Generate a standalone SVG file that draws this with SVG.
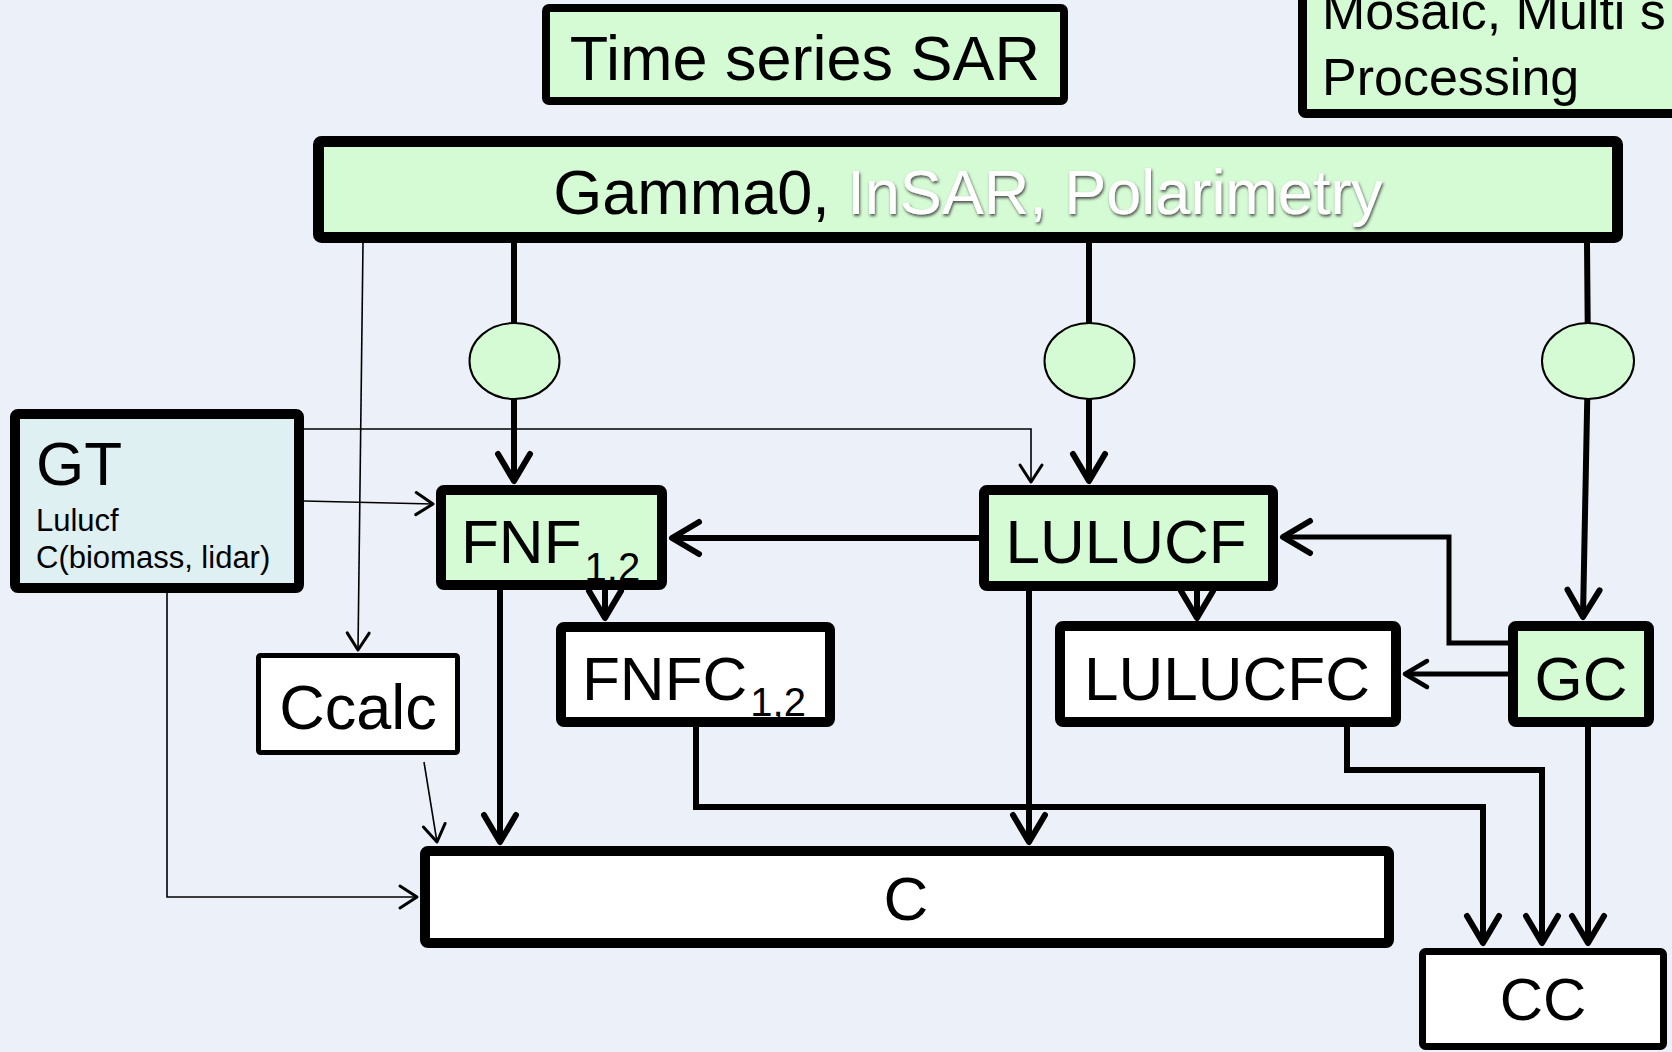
<svg xmlns="http://www.w3.org/2000/svg" width="1672" height="1052" viewBox="0 0 1672 1052">
  <style>
    text { font-family: "Liberation Sans", Arial, sans-serif; fill: #000; }
    .box { stroke: #000; stroke-width: 10; stroke-linejoin: round; }
    .green { fill: #d5fbd4; }
    .white { fill: #ffffff; }
    .blue { fill: #dff0f3; }
    .big { font-size: 62px; }
    .sub { font-size: 40px; }
    .small { font-size: 31px; }
    .thick { fill: none; stroke: #000; stroke-width: 6; stroke-linejoin: miter; }
    .mid { fill: none; stroke: #000; stroke-width: 5; stroke-linejoin: miter; }
    .thin { fill: none; stroke: #000; stroke-width: 1.6; }
    .blob { fill: #d5fbd4; stroke: #000; stroke-width: 2; }
  </style>
  <defs>
    <marker id="ahThick" markerUnits="userSpaceOnUse" orient="auto" viewBox="-40 -25 50 50" markerWidth="50" markerHeight="50" refX="0" refY="0" overflow="visible">
      <path d="M-27,-16 L0,0 L-27,16" fill="none" stroke="#000" stroke-width="6" stroke-linecap="round" stroke-linejoin="round"/>
    </marker>
    <marker id="ahMid" markerUnits="userSpaceOnUse" orient="auto" viewBox="-40 -25 50 50" markerWidth="50" markerHeight="50" refX="0" refY="0" overflow="visible">
      <path d="M-22,-13 L0,0 L-22,13" fill="none" stroke="#000" stroke-width="4.5" stroke-linecap="round" stroke-linejoin="round"/>
    </marker>
    <marker id="ahThin" markerUnits="userSpaceOnUse" orient="auto" viewBox="-30 -20 40 40" markerWidth="40" markerHeight="40" refX="0" refY="0" overflow="visible">
      <path d="M-17,-11 L0,0 L-17,11" fill="none" stroke="#000" stroke-width="3" stroke-linecap="round" stroke-linejoin="round"/>
    </marker>
    <filter id="glow" x="-10%" y="-30%" width="120%" height="160%">
      <feDropShadow dx="1" dy="2" stdDeviation="1.6" flood-color="#3a3a3a" flood-opacity="0.9"/>
    </filter>
  </defs>

  <!-- page background -->
  <rect x="0" y="0" width="1672" height="1052" fill="#ecf1f9"/>

  <!-- connectors -->
  <g id="connectors">
    <!-- Gamma0 feeds through the three decision ellipses -->
    <path class="thick" d="M514,243 L514,481" marker-end="url(#ahThick)"/>
    <path class="thick" d="M1089,243 L1089,481" marker-end="url(#ahThick)"/>
    <path class="thick" d="M1587,243 L1588,360 L1583,617" marker-end="url(#ahThick)"/>
    <!-- LULUCF to FNF -->
    <path class="thick" d="M979,538 L672,538" marker-end="url(#ahThick)"/>
    <!-- GC back to LULUCF and LULUCFC -->
    <path class="mid" d="M1508,643 L1449,643 L1449,537 L1283,537" marker-end="url(#ahThick)"/>
    <path class="mid" d="M1508,674 L1405,674" marker-end="url(#ahMid)"/>
    <!-- classification to change products -->
    <path class="thick" d="M605,590 L605,618" marker-end="url(#ahThick)"/>
    <path class="thick" d="M1197,591 L1197,618" marker-end="url(#ahThick)"/>
    <!-- products to C -->
    <path class="thick" d="M500,590 L500,842" marker-end="url(#ahThick)"/>
    <path class="thick" d="M1029,591 L1029,842" marker-end="url(#ahThick)"/>
    <!-- change products to CC -->
    <path class="thick" d="M696,727 L696,807 L1483,807 L1483,943" marker-end="url(#ahThick)"/>
    <path class="thick" d="M1347,727 L1347,770 L1542,770 L1542,943" marker-end="url(#ahThick)"/>
    <path class="thick" d="M1588,727 L1588,943" marker-end="url(#ahThick)"/>
    <!-- thin ground-truth and calculation links -->
    <path class="thin" d="M363,243 L358,650" marker-end="url(#ahThin)"/>
    <path class="thin" d="M304,429 L1031,429 L1031,482" marker-end="url(#ahThin)"/>
    <path class="thin" d="M304,501 L433,504" marker-end="url(#ahThin)"/>
    <path class="thin" d="M167,593 L167,897 L417,897" marker-end="url(#ahThin)"/>
    <path class="thin" d="M424,762 L437,842" marker-end="url(#ahThin)"/>
  </g>

  <!-- top inputs -->
  <g id="time-series-sar">
    <rect class="box green" x="546" y="8" width="518" height="93" rx="3" style="stroke-width:8"/>
    <text x="805" y="80" font-size="63" text-anchor="middle">Time series SAR</text>
  </g>

  <g id="mosaic">
    <rect class="box green" x="1302.5" y="-20" width="400" height="133.5" rx="3" style="stroke-width:9"/>
    <text x="1322" y="29" font-size="52">Mosaic, Multi s</text>
    <text x="1322" y="95" font-size="52">Processing</text>
  </g>

  <g id="gamma0">
    <rect class="box green" x="318.5" y="141.5" width="1299" height="96" rx="3" style="stroke-width:11"/>
    <text x="968" y="214" font-size="63" text-anchor="middle">Gamma0, <tspan fill="#ffffff" filter="url(#glow)">InSAR, Polarimetry</tspan></text>
  </g>

  <!-- decision points -->
  <g id="ellipse-fnf"><ellipse class="blob" cx="514.5" cy="361" rx="45" ry="38"/></g>
  <g id="ellipse-lulucf"><ellipse class="blob" cx="1089.5" cy="361" rx="45" ry="38"/></g>
  <g id="ellipse-gc"><ellipse class="blob" cx="1588" cy="361" rx="46" ry="38"/></g>

  <!-- ground truth -->
  <g id="gt">
    <rect class="box blue" x="15" y="414" width="284" height="174" rx="3"/>
    <text class="big" x="36" y="485">GT</text>
    <text class="small" x="36" y="531">Lulucf</text>
    <text class="small" x="36" y="568">C(biomass, lidar)</text>
  </g>

  <!-- classification products -->
  <g id="fnf">
    <rect class="box green" x="441" y="490" width="221" height="95" rx="3"/>
    <text class="big" x="461" y="563">FNF<tspan class="sub" dx="3" dy="18">1,2</tspan></text>
  </g>

  <g id="lulucf">
    <rect class="box green" x="984" y="490" width="289" height="96" rx="3"/>
    <text class="big" x="1126" y="563" text-anchor="middle">LULUCF</text>
  </g>

  <g id="gc">
    <rect class="box green" x="1513" y="626" width="136" height="96" rx="3"/>
    <text class="big" x="1581" y="700" text-anchor="middle">GC</text>
  </g>

  <g id="fnfc">
    <rect class="box white" x="561" y="627" width="269" height="95" rx="3"/>
    <text class="big" x="582" y="700">FNFC<tspan class="sub" dx="3" dy="16">1,2</tspan></text>
  </g>

  <g id="lulucfc">
    <rect class="box white" x="1060" y="626" width="336" height="96" rx="3"/>
    <text class="big" x="1227" y="700" text-anchor="middle">LULUCFC</text>
  </g>

  <g id="ccalc">
    <rect class="box white" x="258.5" y="655.5" width="199" height="97" rx="2" style="stroke-width:5"/>
    <text x="358" y="729" font-size="63" text-anchor="middle">Ccalc</text>
  </g>

  <!-- carbon outputs -->
  <g id="c">
    <rect class="box white" x="425" y="851" width="964" height="92" rx="3"/>
    <text class="big" x="906" y="920" text-anchor="middle">C</text>
  </g>

  <g id="cc">
    <rect class="box white" x="1422.5" y="951.5" width="241" height="95" rx="3" style="stroke-width:7"/>
    <text x="1543" y="1020" font-size="60" text-anchor="middle">CC</text>
  </g>
</svg>
